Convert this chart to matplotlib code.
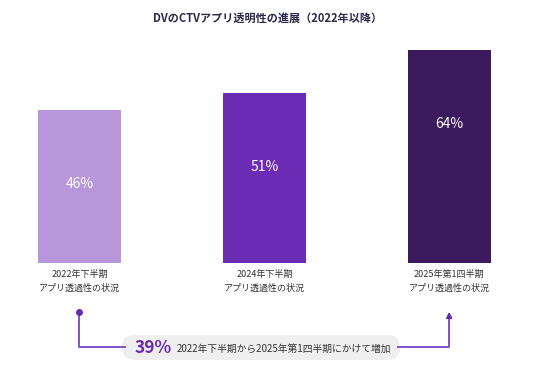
import matplotlib
matplotlib.use("Agg")
import matplotlib.pyplot as plt
from matplotlib.patches import FancyBboxPatch

plt.rcParams['font.family'] = ['Noto Sans CJK JP', 'DejaVu Sans']

# datos
categorias = ['2022年下半期\nアプリ透過性の状況', '2024年下半期\nアプリ透過性の状況', '2025年第1四半期\nアプリ透過性の状況']
valores = [46, 51, 64]
colores = ['#b797d9', '#6c2bb3', '#3b1a5e']
titulo = 'DVのCTVアプリ透明性の進展（2022年以降）'
aumento = '39%'
texto_aumento = '2022年下半期から2025年第1四半期にかけて増加'

W, H = 536, 377
fig = plt.figure(figsize=(W / 100, H / 100), dpi=100)
fig.patch.set_facecolor('white')

# ejes principales: barras
ax = fig.add_axes([0, 0, 1, 1])
ax.set_xlim(-0.43, 2.47)
ax.set_ylim(-34.2, 79.0)
ax.axis('off')

x = list(range(len(valores)))
barras = ax.bar(x, valores, width=0.45, color=colores)
for b in barras:
    b.set_edgecolor('none')
for xi, v in zip(x, valores):
    # la etiqueta va a distancia fija del borde superior
    ax.annotate(f'{v}%', (xi, v), xytext=(0, -53), textcoords='offset points',
                ha='center', va='center', color='white', fontsize=10)
    ax.annotate(categorias[xi], (xi, 0), xytext=(0, -5), textcoords='offset points',
                ha='center', va='top', fontsize=6.5, color='#333333', linespacing=1.6)

fig.text(0.5, 1 - 18 / H, titulo, ha='center', va='center', fontsize=8,
         fontweight='bold', color='#2a2a4a')

# capa superpuesta en pixeles para el conector
ov = fig.add_axes([0, 0, 1, 1])
ov.set_xlim(0, W)
ov.set_ylim(H, 0)
ov.axis('off')

def px(i):
    return ax.transData.transform((i, 0))[0] * W / fig.bbox.width

x0 = px(0)
x2 = px(2)
ylinea = 347
color_linea = '#7a44c4'
ov.plot([x0, x0, 125], [312, ylinea, ylinea], color=color_linea, lw=1.3)
ov.plot([x0], [312], 'o', color='#6a2bb0', ms=4)
ov.plot([398, x2, x2], [ylinea, ylinea, 318], color=color_linea, lw=1.3)
ov.annotate('', xy=(x2, 309), xytext=(x2, 320),
            arrowprops=dict(arrowstyle='-|>', color='#6a2bb0', lw=1.3, mutation_scale=8))

pill = FancyBboxPatch((122, 335), 278, 25, boxstyle='round,pad=0,rounding_size=12.5',
                      facecolor='#efefef', edgecolor='none')
ov.add_patch(pill)
ov.text(135, 348, aumento, ha='left', va='center', fontsize=12.5, fontweight='bold', color='#6a2bb0')
ov.text(177, 349, texto_aumento, ha='left', va='center', fontsize=7, color='#333333')

fig.savefig('out.png', dpi=100)
